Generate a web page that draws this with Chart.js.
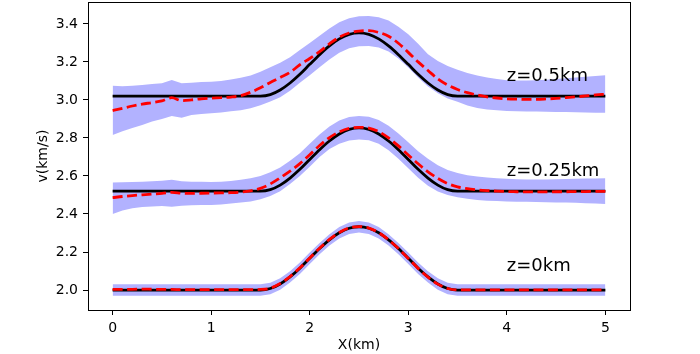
<!DOCTYPE html>
<html>
<head>
<meta charset="utf-8">
<script src="https://cdn.jsdelivr.net/npm/chart.js@4.4.1/dist/chart.umd.min.js"></script>
<style>
  html, body { margin: 0; padding: 0; background: #fff; }
  #wrap { width: 700px; height: 354px; }
</style>
</head>
<body>
<div id="wrap"><canvas id="myChart" width="700" height="354"></canvas></div>
<script>
// x positions (km)
var xs = [0.0, 0.1, 0.2, 0.3, 0.4, 0.5, 0.6, 0.7, 0.8, 0.9,
          1.0, 1.1, 1.2, 1.3, 1.4, 1.5, 1.6, 1.7, 1.8, 1.9,
          2.0, 2.1, 2.2, 2.3, 2.4, 2.5, 2.6, 2.7, 2.8, 2.9,
          3.0, 3.1, 3.2, 3.3, 3.4, 3.5, 3.6, 3.7, 3.8, 3.9,
          4.0, 4.1, 4.2, 4.3, 4.4, 4.5, 4.6, 4.7, 4.8, 4.9, 5.0];

// z = 0 km
var trueZ0 = [2.000, 2.000, 2.000, 2.000, 2.000, 2.000, 2.000, 2.000, 2.000, 2.000,
              2.000, 2.000, 2.000, 2.000, 2.000, 2.000, 2.008, 2.032, 2.069, 2.115,
              2.167, 2.218, 2.264, 2.301, 2.325, 2.333, 2.325, 2.301, 2.264, 2.218,
              2.167, 2.115, 2.069, 2.032, 2.008, 2.000, 2.000, 2.000, 2.000, 2.000,
              2.000, 2.000, 2.000, 2.000, 2.000, 2.000, 2.000, 2.000, 2.000, 2.000, 2.000];
var meanZ0 = [2.003, 2.004, 2.004, 2.005, 2.004, 2.003, 2.003, 2.002, 2.002, 2.002,
              2.002, 2.002, 2.002, 2.002, 2.002, 2.003, 2.010, 2.034, 2.071, 2.117,
              2.169, 2.220, 2.266, 2.303, 2.327, 2.334, 2.326, 2.302, 2.264, 2.218,
              2.166, 2.114, 2.068, 2.031, 2.008, 2.001, 2.001, 2.001, 2.001, 2.001,
              2.001, 2.001, 2.001, 2.001, 2.001, 2.001, 2.001, 2.001, 2.001, 2.001, 2.001];
var hiZ0 = [2.030, 2.030, 2.030, 2.030, 2.030, 2.030, 2.030, 2.030, 2.030, 2.030,
            2.030, 2.030, 2.030, 2.030, 2.030, 2.030, 2.038, 2.062, 2.099, 2.145,
            2.197, 2.248, 2.294, 2.331, 2.355, 2.363, 2.355, 2.331, 2.294, 2.248,
            2.197, 2.145, 2.099, 2.062, 2.038, 2.030, 2.030, 2.030, 2.030, 2.030,
            2.030, 2.030, 2.030, 2.030, 2.030, 2.030, 2.030, 2.030, 2.030, 2.030, 2.030];
var loZ0 = [1.970, 1.970, 1.970, 1.970, 1.970, 1.970, 1.970, 1.970, 1.970, 1.970,
            1.970, 1.970, 1.970, 1.970, 1.970, 1.970, 1.978, 2.002, 2.039, 2.085,
            2.137, 2.188, 2.234, 2.271, 2.295, 2.303, 2.295, 2.271, 2.234, 2.188,
            2.137, 2.085, 2.039, 2.002, 1.978, 1.970, 1.970, 1.970, 1.970, 1.970,
            1.970, 1.970, 1.970, 1.970, 1.970, 1.970, 1.970, 1.970, 1.970, 1.970, 1.970];

// z = 0.25 km
var trueZ025 = [2.520, 2.520, 2.520, 2.520, 2.520, 2.520, 2.520, 2.520, 2.520, 2.520,
                2.520, 2.520, 2.520, 2.520, 2.520, 2.520, 2.528, 2.552, 2.589, 2.635,
                2.687, 2.738, 2.784, 2.821, 2.845, 2.853, 2.845, 2.821, 2.784, 2.738,
                2.687, 2.635, 2.589, 2.552, 2.528, 2.520, 2.520, 2.520, 2.520, 2.520,
                2.520, 2.520, 2.520, 2.520, 2.520, 2.520, 2.520, 2.520, 2.520, 2.520, 2.520];
var meanZ025 = [2.486, 2.492, 2.497, 2.501, 2.505, 2.508, 2.514, 2.509, 2.508, 2.509,
                2.510, 2.511, 2.512, 2.515, 2.522, 2.535, 2.558, 2.590, 2.625, 2.665,
                2.712, 2.760, 2.802, 2.832, 2.850, 2.856, 2.852, 2.833, 2.800, 2.758,
                2.710, 2.664, 2.622, 2.587, 2.560, 2.543, 2.533, 2.527, 2.523, 2.520,
                2.518, 2.517, 2.516, 2.516, 2.516, 2.517, 2.517, 2.518, 2.518, 2.519, 2.519];
var hiZ025 = [2.565, 2.567, 2.568, 2.570, 2.572, 2.575, 2.580, 2.572, 2.570, 2.569,
              2.568, 2.570, 2.574, 2.580, 2.588, 2.600, 2.620, 2.645, 2.680, 2.720,
              2.770, 2.818, 2.860, 2.892, 2.910, 2.916, 2.912, 2.895, 2.864, 2.824,
              2.777, 2.730, 2.690, 2.657, 2.632, 2.615, 2.604, 2.597, 2.592, 2.588,
              2.585, 2.583, 2.582, 2.582, 2.582, 2.583, 2.584, 2.585, 2.586, 2.587, 2.588];
var loZ025 = [2.400, 2.418, 2.430, 2.437, 2.440, 2.442, 2.438, 2.443, 2.446, 2.447,
              2.447, 2.450, 2.455, 2.460, 2.466, 2.478, 2.495, 2.520, 2.558, 2.600,
              2.648, 2.700, 2.742, 2.770, 2.786, 2.792, 2.788, 2.770, 2.735, 2.690,
              2.640, 2.590, 2.548, 2.518, 2.500, 2.488, 2.480, 2.474, 2.470, 2.468,
              2.466, 2.465, 2.464, 2.463, 2.462, 2.461, 2.460, 2.459, 2.457, 2.455, 2.453];

// z = 0.5 km
var trueZ05 = [3.020, 3.020, 3.020, 3.020, 3.020, 3.020, 3.020, 3.020, 3.020, 3.020,
               3.020, 3.020, 3.020, 3.020, 3.020, 3.020, 3.028, 3.052, 3.089, 3.135,
               3.187, 3.238, 3.284, 3.321, 3.345, 3.353, 3.345, 3.321, 3.284, 3.238,
               3.187, 3.135, 3.089, 3.052, 3.028, 3.020, 3.020, 3.020, 3.020, 3.020,
               3.020, 3.020, 3.020, 3.020, 3.020, 3.020, 3.020, 3.020, 3.020, 3.020, 3.020];
var meanZ05 = [2.944, 2.956, 2.968, 2.978, 2.986, 2.995, 3.012, 2.996, 3.000, 3.006,
               3.009, 3.012, 3.015, 3.022, 3.040, 3.064, 3.092, 3.118, 3.145, 3.185,
               3.218, 3.254, 3.295, 3.330, 3.352, 3.362, 3.364, 3.355, 3.335, 3.298,
               3.250, 3.200, 3.155, 3.110, 3.078, 3.055, 3.038, 3.026, 3.016, 3.010,
               3.006, 3.004, 3.003, 3.003, 3.005, 3.008, 3.012, 3.016, 3.021, 3.026, 3.030];
var hiZ05 = [3.074, 3.072, 3.075, 3.078, 3.084, 3.088, 3.105, 3.088, 3.090, 3.094,
             3.096, 3.100, 3.108, 3.116, 3.128, 3.148, 3.172, 3.195, 3.225, 3.262,
             3.300, 3.338, 3.375, 3.408, 3.430, 3.440, 3.442, 3.435, 3.418, 3.385,
             3.345, 3.295, 3.240, 3.205, 3.178, 3.158, 3.142, 3.128, 3.118, 3.110,
             3.104, 3.102, 3.102, 3.104, 3.106, 3.110, 3.114, 3.118, 3.122, 3.126, 3.130];
var loZ05 = [2.816, 2.835, 2.852, 2.868, 2.886, 2.900, 2.916, 2.906, 2.920, 2.926,
             2.930, 2.934, 2.940, 2.946, 2.956, 2.972, 2.992, 3.014, 3.048, 3.090,
             3.130, 3.172, 3.212, 3.248, 3.272, 3.282, 3.284, 3.276, 3.255, 3.218,
             3.170, 3.118, 3.070, 3.035, 3.008, 2.990, 2.970, 2.958, 2.950, 2.945,
             2.942, 2.940, 2.939, 2.939, 2.938, 2.937, 2.936, 2.935, 2.934, 2.933, 2.933];

var xTicks = [0, 1, 2, 3, 4, 5];
var yTicks = [2.0, 2.2, 2.4, 2.6, 2.8, 3.0, 3.2, 3.4];

var labelText = ['z=0.5km', 'z=0.25km', 'z=0km'];
var labelX = [4.0, 4.0, 4.0];
var labelY = [3.1, 2.6, 2.1];

var BAND = 'rgb(178,178,255)';

function pts(ys) {
    return xs.map(function (x, i) { return { x: x, y: ys[i] }; });
}

function bandSets(lo, hi) {
    return [
        { data: pts(lo), borderWidth: 0, pointRadius: 0, fill: false, order: 3 },
        { data: pts(hi), borderWidth: 0, pointRadius: 0, fill: '-1', backgroundColor: BAND, order: 3 }
    ];
}

function lineSet(ys, color, dashed) {
    return {
        data: pts(ys),
        borderColor: color,
        borderWidth: 2.8,
        borderDash: dashed ? [10, 4.5] : [],
        pointRadius: 0,
        fill: false,
        cubicInterpolationMode: 'monotone',
        order: dashed ? 0 : 1
    };
}

var datasets = [].concat(
    bandSets(loZ05, hiZ05),
    bandSets(loZ025, hiZ025),
    bandSets(loZ0, hiZ0),
    [lineSet(trueZ05, '#000'), lineSet(trueZ025, '#000'), lineSet(trueZ0, '#000')],
    [lineSet(meanZ05, '#ff0000', true), lineSet(meanZ025, '#ff0000', true), lineSet(meanZ0, '#ff0000', true)]
);

// frame + the z labels
var extras = {
    id: 'extras',
    afterDraw: function (chart) {
        var ctx = chart.ctx, a = chart.chartArea;
        var sx = chart.scales.x, sy = chart.scales.y;
        ctx.save();
        ctx.strokeStyle = '#000';
        ctx.lineWidth = 1;
        ctx.strokeRect(Math.round(a.left) + 0.5, Math.round(a.top) + 0.5,
                       Math.round(a.right - a.left), Math.round(a.bottom - a.top));
        ctx.fillStyle = '#000';
        ctx.font = '18px "DejaVu Sans"';
        ctx.textAlign = 'left';
        ctx.textBaseline = 'alphabetic';
        for (var i = 0; i < labelText.length; i++) {
            ctx.fillText(labelText[i], sx.getPixelForValue(labelX[i]), sy.getPixelForValue(labelY[i]));
        }
        ctx.restore();
    }
};

function noPad(s) {
    s.paddingTop = 0; s.paddingBottom = 0; s.paddingLeft = 0; s.paddingRight = 0;
}

Chart.defaults.font.family = '"DejaVu Sans", sans-serif';
Chart.defaults.font.size = 14;
Chart.defaults.color = '#000';

new Chart(document.getElementById('myChart'), {
    type: 'scatter',
    data: { datasets: datasets },
    options: {
        responsive: false,
        animation: false,
        devicePixelRatio: 1,
        showLine: true,
        layout: { padding: { left: 35, right: 70, top: 2, bottom: 0 } },
        plugins: { legend: { display: false }, tooltip: { enabled: false } },
        scales: {
            x: {
                type: 'linear',
                min: -0.25, max: 5.25,
                afterBuildTicks: function (s) { s.ticks = xTicks.map(function (v) { return { value: v }; }); },
                afterFit: function (s) { s.height = 44; noPad(s); },
                ticks: { padding: 5, callback: function (v) { return String(v); } },
                grid: { drawOnChartArea: false, tickLength: 5, tickColor: '#000' },
                border: { color: '#000' },
                title: { display: true, text: 'X(km)', padding: 0, font: { size: 14 } }
            },
            y: {
                type: 'linear',
                min: 1.895, max: 3.515,
                afterBuildTicks: function (s) { s.ticks = yTicks.map(function (v) { return { value: v }; }); },
                afterFit: function (s) { s.width = 53; noPad(s); },
                ticks: { padding: 5, callback: function (v) { return v.toFixed(1); } },
                grid: { drawOnChartArea: false, tickLength: 5, tickColor: '#000' },
                border: { color: '#000' },
                title: { display: true, text: 'v(km/s)', padding: 0, font: { size: 14 } }
            }
        }
    },
    plugins: [extras]
});
</script>
</body>
</html>
